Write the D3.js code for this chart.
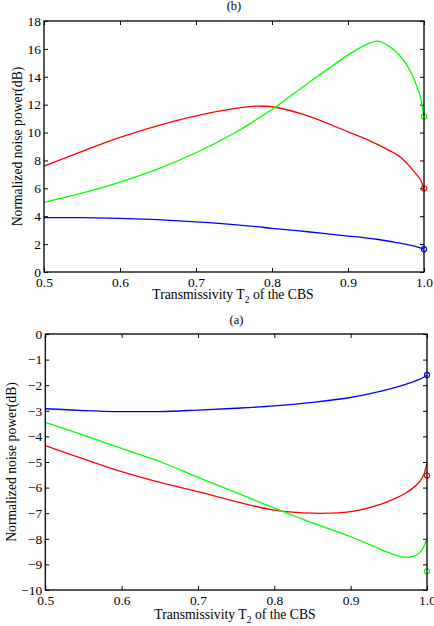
<!DOCTYPE html>
<html><head><meta charset="utf-8">
<script src="https://cdn.jsdelivr.net/npm/d3@7"></script>
<style>body{margin:0;background:#fff}svg{display:block}</style>
</head><body>
<svg id="c" width="434" height="626"></svg>
<script>
// Panel (b) data
const tB = [0.5,0.55,0.6,0.65,0.7,0.75,0.78,0.8,0.85,0.9,0.92,0.94,0.96,0.97,0.98,0.99,0.995,1.0];
const redB   = [7.6,8.65,9.65,10.5,11.2,11.72,11.9,11.85,11.15,10.05,9.62,9.12,8.55,8.2,7.65,7.0,6.65,5.95];
const greenB = [5.0,5.65,6.45,7.4,8.55,9.95,10.95,11.65,13.65,15.55,16.2,16.55,15.95,15.4,14.6,13.4,12.6,11.15];
const blueB  = [3.9,3.9,3.85,3.75,3.6,3.4,3.25,3.13,2.87,2.58,2.47,2.33,2.15,2.05,1.95,1.82,1.73,1.63];
const markB  = {red:6.0, green:11.15, blue:1.63};
// Panel (a) data
const tA = [0.5,0.55,0.6,0.65,0.7,0.75,0.8,0.85,0.9,0.94,0.96,0.97,0.98,0.99,0.995,1.0];
const redA   = [-4.36,-4.88,-5.38,-5.8,-6.16,-6.55,-6.88,-7.0,-6.94,-6.65,-6.4,-6.25,-6.05,-5.78,-5.55,-5.05];
const greenA = [-3.45,-3.95,-4.47,-4.98,-5.6,-6.2,-6.8,-7.38,-7.92,-8.42,-8.65,-8.72,-8.7,-8.55,-8.35,-7.95];
const blueA  = [-2.92,-2.99,-3.03,-3.03,-2.97,-2.9,-2.81,-2.67,-2.48,-2.23,-2.08,-1.99,-1.89,-1.77,-1.7,-1.6];
const markA  = {red:-5.53, green:-9.27, blue:-1.6};
const xTicks = [0.5,0.6,0.7,0.8,0.9,1.0];
const yTicksB = [0,2,4,6,8,10,12,14,16,18];
const yTicksA = [0,-1,-2,-3,-4,-5,-6,-7,-8,-9,-10];
const colors = {red:"#ff0000", green:"#00ff00", blue:"#0000ff"};

const svg = d3.select("#c");
const FONT = "'Liberation Serif','Times New Roman',serif";

function panel(opt){
  const x = d3.scaleLinear().domain([0.5,1.0]).range([opt.l,opt.r]);
  const y = d3.scaleLinear().domain(opt.ydom).range([opt.b,opt.t]);
  const g = svg.append("g");
  const fmtY = d3.format("d");
  const ax = g.append("g").attr("transform",`translate(0,${opt.b})`)
    .call(d3.axisBottom(x).tickValues(xTicks).tickFormat(d3.format(".1f")).tickSizeInner(-4).tickSizeOuter(0).tickPadding(5));
  const ay = g.append("g").attr("transform",`translate(${opt.l},0)`)
    .call(d3.axisLeft(y).tickValues(opt.yticks).tickFormat(fmtY).tickSizeInner(-4).tickSizeOuter(0).tickPadding(3));
  const at = g.append("g").attr("transform",`translate(0,${opt.t})`)
    .call(d3.axisTop(x).tickValues(xTicks).tickFormat("").tickSizeInner(-4).tickSizeOuter(0));
  const ar = g.append("g").attr("transform",`translate(${opt.r},0)`)
    .call(d3.axisRight(y).tickValues(opt.yticks).tickFormat("").tickSizeInner(-4).tickSizeOuter(0));
  [ax,ay,at,ar].forEach(a=>{
    a.select(".domain").remove();
    a.selectAll("line").attr("stroke","#000").attr("stroke-width",1);
    a.selectAll("text").attr("font-family",FONT).attr("font-size",13.5).attr("fill","#000");
  });
  const line = d3.line().x((d,i)=>x(opt.t_[i])).y(d=>y(d)).curve(d3.curveCatmullRom.alpha(0.5));
  ["red","green","blue"].forEach(k=>{
    g.append("path").attr("d",line(opt.series[k])).attr("fill","none")
      .attr("stroke",colors[k]).attr("stroke-width",1.3);
  });
  ["red","green","blue"].forEach(k=>{
    g.append("circle").attr("cx",x(1.0)).attr("cy",y(opt.marks[k])).attr("r",2.6)
      .attr("fill","none").attr("stroke",colors[k]).attr("stroke-width",1.1);
  });
  g.append("rect").attr("x",opt.l).attr("y",opt.t).attr("width",opt.r-opt.l).attr("height",opt.b-opt.t)
    .attr("fill","none").attr("stroke","#000").attr("stroke-width",1.3);
  // titles
  const xt = g.append("text").attr("x",opt.xtx).attr("y",opt.xty).attr("text-anchor","middle")
    .attr("font-family",FONT).attr("font-size",13.7);
  xt.append("tspan").text("Transmissivity T");
  xt.append("tspan").attr("font-size",9.5).attr("dy",4).text("2");
  xt.append("tspan").attr("dy",-4).text(" of the CBS");
  g.append("text").attr("transform",`translate(${opt.ytx},${(opt.t+opt.b)/2}) rotate(-90)`)
    .attr("text-anchor","middle").attr("font-family",FONT).attr("font-size",13.7)
    .text("Normalized noise power(dB)");
  g.append("text").attr("x",opt.lx).attr("y",opt.ly).attr("text-anchor","middle")
    .attr("font-family",FONT).attr("font-size",12.5).text(opt.label);
}

panel({l:44,r:424,t:21,b:272,ydom:[0,18],yticks:yTicksB,t_:tB,
  series:{red:redB,green:greenB,blue:blueB},marks:markB,
  xtx:233,xty:299,ytx:22,lx:234,ly:10,label:"(b)"});
panel({l:45.3,r:427,t:334,b:590,ydom:[-10,0],yticks:yTicksA,t_:tA,
  series:{red:redA,green:greenA,blue:blueA},marks:markA,
  xtx:235,xty:619,ytx:16,lx:236.5,ly:324,label:"(a)"});
</script>
</body></html>
